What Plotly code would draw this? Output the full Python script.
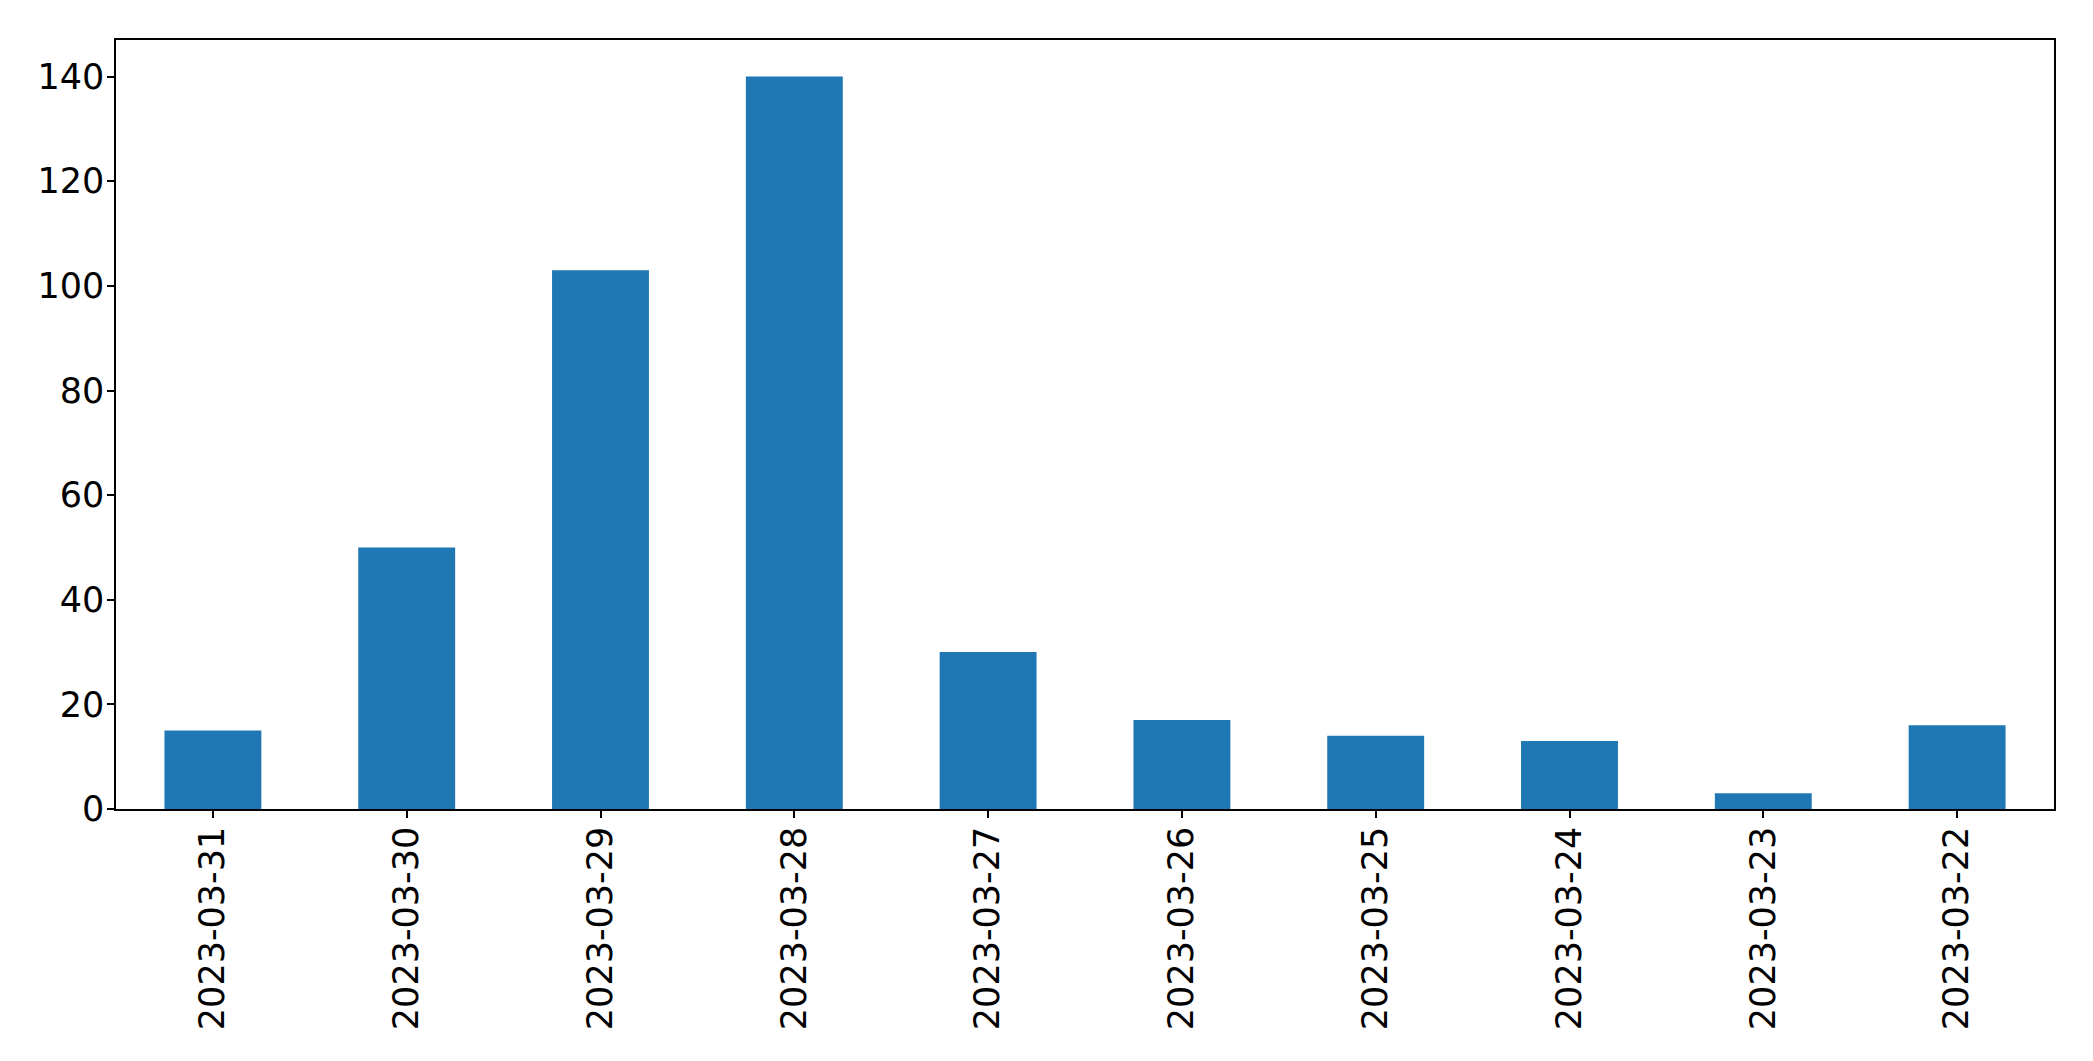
import plotly.graph_objects as go

dates = ["2023-03-31", "2023-03-30", "2023-03-29", "2023-03-28", "2023-03-27",
         "2023-03-26", "2023-03-25", "2023-03-24", "2023-03-23", "2023-03-22"]
counts = [15, 50, 103, 140, 30, 17, 14, 13, 3, 16]
y_ticks = [0, 20, 40, 60, 80, 100, 120, 140]

fig = go.Figure(go.Bar(x=dates, y=counts, width=0.5, marker=dict(color="#1f77b4", line=dict(width=0))))

fig.update_layout(
    width=2085, height=1053,
    margin=dict(l=108, r=39, t=32, b=252),
    paper_bgcolor="white", plot_bgcolor="white",
    font=dict(family="DejaVu Sans", size=35, color="black"),
    showlegend=False,
    bargap=0.5,
)
fig.update_xaxes(
    type="category", range=[-0.5, 9.5], tickangle=-90,
    showline=True, linecolor="black", linewidth=1.5, mirror=True,
    ticks="outside", ticklen=7, tickwidth=1.5, tickcolor="black",
    showgrid=False, zeroline=False, ticklabelstandoff=-5,
)
fig.update_yaxes(
    range=[0, 147], tickvals=y_ticks,
    showline=True, linecolor="black", linewidth=1.5, mirror=True,
    ticks="outside", ticklen=7, tickwidth=1.5, tickcolor="black",
    showgrid=False, zeroline=False, ticklabelstandoff=-4,
)

fig.write_html("out.html")
